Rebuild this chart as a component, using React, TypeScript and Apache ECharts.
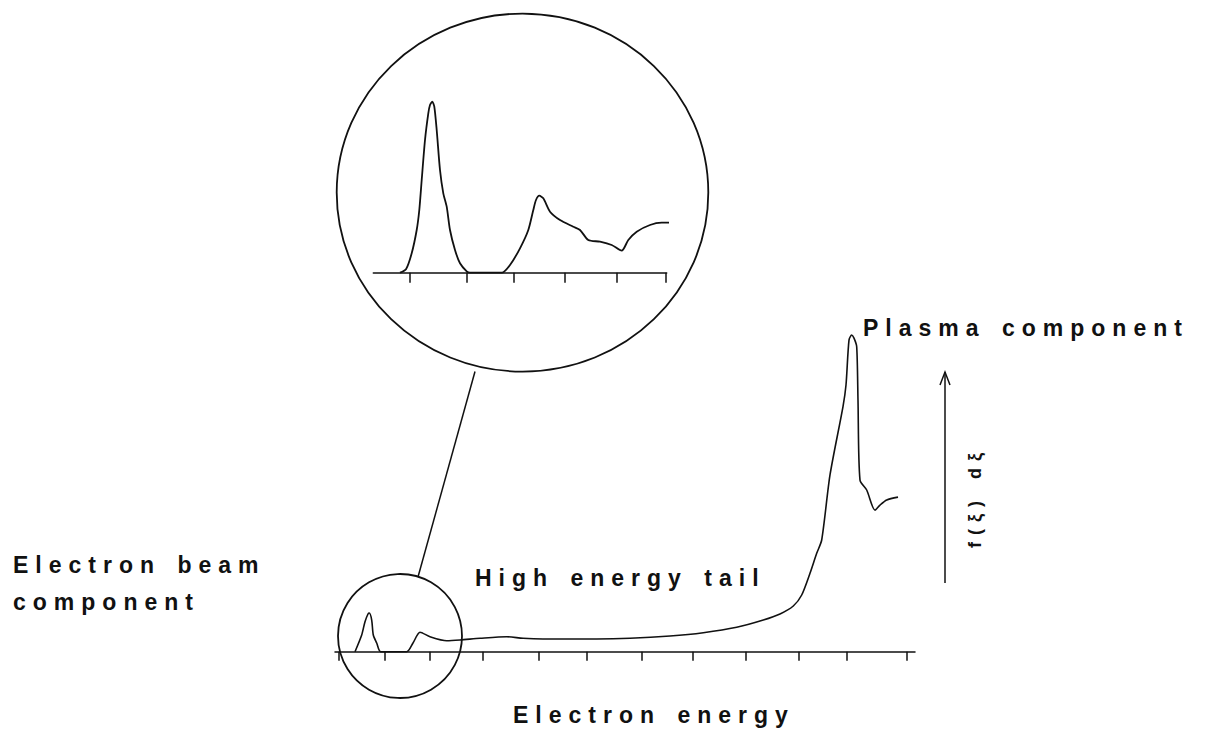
import React, { useEffect, useRef } from "react";
import * as echarts from "echarts";

// Main spectrum: electron energy (arbitrary units) vs f(ξ) dξ (peak = 100)
const mainTicks = [0.07, 0.99, 1.9, 2.95, 4.07, 5.03, 6.13, 7.15, 8.22, 9.27, 10.23, 11.43];
const mainEnergy = [
  0.4, 0.534, 0.6, 0.66, 0.686, 0.734, 0.766, 0.834, 0.914, 1.434, 1.56, 1.7, 1.9, 2.234, 2.5, 2.9,
  3.434, 3.76, 4.16, 4.56, 5.234, 5.9, 6.7, 7.366, 8.034, 8.566, 8.9, 9.166, 9.334, 9.5, 9.634,
  9.734, 9.9, 10.16, 10.22, 10.28, 10.334, 10.38, 10.434, 10.46, 10.5, 10.634, 10.8, 10.9, 11.034, 11.26,
];
const mainDistribution = [
  0, 5.27, 9.47, 11.9, 12.2, 10.0, 5.27, 2.75, 0, 0, 2.75, 6.13, 4.74, 3.47, 3.69, 4.23,
  4.74, 4.23, 4.01, 4.01, 4.01, 4.23, 4.96, 6.0, 7.7, 10.0, 11.9, 14.43, 17.9, 24.76, 31.07,
  35.27, 55.8, 77.4, 84.2, 98.4, 100, 99, 96.3, 79.4, 54.2, 51.06, 44.7, 46.3, 47.9, 48.8,
];

// Magnified low-energy region (inset)
const insetTicks = [1.84, 4.67, 7.0, 9.55, 12.17, 14.64];
const insetEnergy = [
  1.335, 1.635, 1.92, 2.17, 2.3, 2.42, 2.585, 2.75, 2.835, 2.95, 3.05, 3.17, 3.335, 3.5, 3.67, 3.835,
  4.085, 4.335, 4.67, 4.835, 6.42, 6.835, 7.335, 7.75, 8.0, 8.135, 8.3, 8.5, 8.835, 9.335, 10.0,
  10.335, 10.75, 11.335, 11.92, 12.42, 12.75, 13.17, 13.835, 14.42, 14.835,
];
const insetDistribution = [
  0, 1.99, 11.35, 24.97, 36.67, 54.2, 77.6, 93.2, 98.07, 100, 97.08, 83.45, 60.06, 46.43, 38.6, 24.97,
  13.27, 5.5, 0.82, 0, 0, 4.5, 14.27, 24.97, 36.67, 42.5, 45.03, 43.5, 35.67, 30.8, 26.9,
  24.97, 19.12, 18.13, 16.2, 12.87, 19.12, 23.98, 27.9, 29.24, 29.24,
];

const labelBeam1 = "Electron beam";
const labelBeam2 = "component";
const labelTail = "High energy tail";
const labelPlasma = "Plasma component";
const labelXAxis = "Electron energy";
const labelYAxis = "f(ξ) dξ";

const INK = "#111";
const FONT = 'bold 23px "Liberation Sans", Arial, sans-serif';

export default function App() {
  const ref = useRef<HTMLDivElement>(null);

  useEffect(() => {
    if (!ref.current) return;
    const chart = echarts.init(ref.current, null, { renderer: "svg" });

    const mainData = mainEnergy.map((x, i) => [x, mainDistribution[i]]);
    const insetData = insetEnergy.map((x, i) => [x, insetDistribution[i]]);

    const axisCommon = (ticks: number[], len: number) => ({
      type: "value" as const,
      axisLine: { show: true, onZero: false, lineStyle: { color: INK, width: 1.5 } },
      axisTick: { show: true, inside: false, length: len, customValues: ticks, lineStyle: { color: INK, width: 1.5 } },
      axisLabel: { show: false },
      splitLine: { show: false },
    });

    const text = (t: string, x: number, y: number) => ({
      type: "text",
      x,
      y,
      silent: true,
      style: { text: t, fill: INK, font: FONT, align: "left", verticalAlign: "middle" },
    });

    chart.setOption({
      animation: false,
      backgroundColor: "#fff",
      grid: [
        { left: 335, right: 292, top: 335, bottom: 78.3 },
        { left: 373.3, right: 540.3, top: 101.7, bottom: 457.3 },
      ],
      xAxis: [
        { ...axisCommon(mainTicks, 9), gridIndex: 0, min: 0, max: 11.6 },
        { ...axisCommon(insetTicks, 10), gridIndex: 1, min: 0, max: 14.67 },
      ],
      yAxis: [
        { type: "value", gridIndex: 0, min: 0, max: 100, show: false },
        { type: "value", gridIndex: 1, min: 0, max: 100, show: false },
      ],
      series: [
        {
          type: "line",
          xAxisIndex: 0,
          yAxisIndex: 0,
          data: mainData,
          showSymbol: false,
          smooth: 0.25,
          clip: false,
          silent: true,
          lineStyle: { color: INK, width: 1.6 },
        },
        {
          type: "line",
          xAxisIndex: 1,
          yAxisIndex: 1,
          data: insetData,
          showSymbol: false,
          smooth: 0.25,
          clip: false,
          silent: true,
          lineStyle: { color: INK, width: 1.8 },
        },
      ],
      graphic: [
        { type: "ellipse", silent: true, shape: { cx: 522.5, cy: 192.6, rx: 185.8, ry: 179 }, style: { fill: "none", stroke: INK, lineWidth: 1.8 } },
        { type: "circle", silent: true, shape: { cx: 400, cy: 636, r: 62 }, style: { fill: "none", stroke: INK, lineWidth: 1.8 } },
        { type: "line", silent: true, shape: { x1: 475, y1: 371.5, x2: 418, y2: 577 }, style: { stroke: INK, lineWidth: 1.5 } },
        { type: "line", silent: true, shape: { x1: 945, y1: 583, x2: 945, y2: 372 }, style: { stroke: INK, lineWidth: 1.5 } },
        { type: "polyline", silent: true, shape: { points: [[940, 385], [945, 372], [950, 385]] }, style: { fill: "none", stroke: INK, lineWidth: 1.5 } },
        text(labelBeam1, 13, 564.5),
        text(labelBeam2, 13, 602),
        text(labelTail, 475, 578.3),
        text(labelXAxis, 513, 715),
        text(labelPlasma, 863, 328),
        {
          type: "text",
          x: 975,
          y: 497,
          rotation: Math.PI / 2,
          silent: true,
          style: { text: labelYAxis, fill: INK, font: 'bold 18px "Liberation Sans", Arial, sans-serif', align: "center", verticalAlign: "middle" },
        },
      ],
    });

    return () => chart.dispose();
  }, []);

  return (
    <div
      ref={ref}
      style={{
        position: "fixed",
        left: 0,
        top: 0,
        width: 1207,
        height: 730,
        background: "#fff",
        letterSpacing: "7px",
        wordSpacing: "3px",
      }}
    />
  );
}
